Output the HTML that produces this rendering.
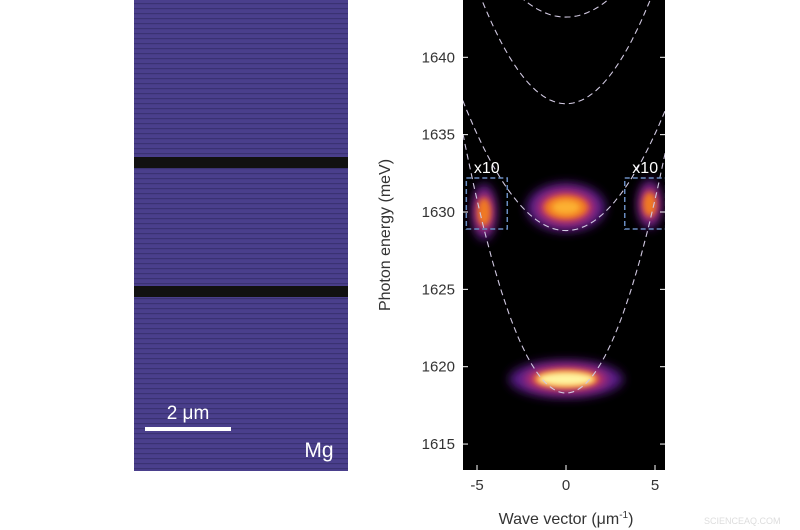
<!DOCTYPE html>
<html><head><meta charset="utf-8"><style>
body{margin:0;background:#fff;width:800px;height:530px;overflow:hidden;font-family:"Liberation Sans",sans-serif}
svg{position:absolute;left:0;top:0}
</style></head><body>
<svg width="800" height="530">
<defs>
<pattern id="stripes" width="7" height="5" patternUnits="userSpaceOnUse">
<rect width="7" height="5" fill="#4a3f8c"/><rect y="3" width="7" height="1.2" fill="#3a3272"/>
</pattern>
<filter id="blur" x="-50%" y="-50%" width="200%" height="200%"><feGaussianBlur stdDeviation="5"/></filter>
<filter id="blur2" x="-50%" y="-50%" width="200%" height="200%"><feGaussianBlur stdDeviation="3"/></filter>
<clipPath id="plotclip"><rect x="463" y="0" width="202" height="470"/></clipPath>
</defs>
<g>
<rect x="134" y="0" width="214" height="471" fill="url(#stripes)"/>
<rect x="134" y="157" width="214" height="11" fill="#111"/>
<rect x="134" y="286" width="214" height="11" fill="#111"/>
<rect x="145" y="427" width="86" height="4" fill="#fff"/>
<text x="188" y="419" font-size="19" fill="#fff" text-anchor="middle">2 μm</text>
<text x="319" y="457" font-size="21" fill="#fff" text-anchor="middle">Mg</text>
</g>
<rect x="463" y="0" width="202" height="470" fill="#000"/>
<g id="marks" clip-path="url(#plotclip)"></g>
<g id="axes"></g>
<text x="566" y="524" font-size="16" fill="#333" text-anchor="middle">Wave vector (μm<tspan dy="-6" font-size="10">-1</tspan><tspan dy="6">)</tspan></text>
<text transform="translate(390,235) rotate(-90)" font-size="16" fill="#333" text-anchor="middle">Photon energy (meV)</text>
<text x="704" y="524" font-size="9" fill="#ddd">SCIENCEAQ.COM</text>
</svg>
<script>
const xTicks=[-5,0,5];
const yTicks=[1615,1620,1625,1630,1635,1640];
const curveVertex=[1618.3,1628.8,1637.0,1642.6];
const curveCoef=[0.5,0.25,0.3,0.2];
const blobK=[0,0,-4.6,4.7];
const blobE=[1619.2,1630.3,1630.0,1630.5];
const blobWk=[2.9,2.0,0.6,0.6];
const blobWe=[1.0,1.3,1.5,1.3];
const boxK0=[-5.6,3.3];
const boxK1=[-3.3,5.6];
const boxE0=[1628.9,1628.9];
const boxE1=[1632.2,1632.2];
const xs=k=>566+k*17.8;
const ys=e=>212-(e-1630)*15.47;
const NS='http://www.w3.org/2000/svg';
const marks=document.getElementById('marks'),axes=document.getElementById('axes');
function mk(t,a,p){const e=document.createElementNS(NS,t);for(const k in a)e.setAttribute(k,a[k]);p.appendChild(e);return e;}
blobK.forEach((k,i)=>{
 const g=mk('g',{},marks);
 
 
 const rx=blobWk[i]*17.8, ry=blobWe[i]*15.47;
 mk('ellipse',{cx:xs(k),cy:ys(blobE[i]),rx:rx*1.1,ry:ry*1.2,fill:'#5a1a8a',filter:'url(#blur)'},g);
 mk('ellipse',{cx:xs(k),cy:ys(blobE[i]),rx:rx*0.8,ry:ry*0.85,fill:'#c0306a',filter:'url(#blur)'},g);
 mk('ellipse',{cx:xs(k),cy:ys(blobE[i]),rx:rx*0.62,ry:ry*0.6,fill:'#f07a20',filter:'url(#blur2)'},g);
 if(i<2) mk('ellipse',{cx:xs(k),cy:ys(blobE[i]),rx:rx*(i==0?0.55:0.4),ry:ry*(i==0?0.45:0.35),fill:i==0?'#fff4a0':'#fcb030',filter:'url(#blur2)'},g);
});
curveVertex.forEach((v,i)=>{
 let d='';for(let k=-6;k<=6.001;k+=0.1){d+=(d?'L':'M')+xs(k).toFixed(1)+','+ys(v+curveCoef[i]*k*k).toFixed(1);}
 const p=mk('path',{d,fill:'none',stroke:'#d0c8e0','stroke-width':1.1,'stroke-dasharray':'6,4'},marks);
 
 
});
boxK0.forEach((k,i)=>{
 const r=mk('rect',{x:xs(k),y:ys(boxE1[i]),width:xs(boxK1[i])-xs(k),height:ys(boxE0[i])-ys(boxE1[i]),fill:'none',stroke:'#6a8cc0','stroke-width':1.5,'stroke-dasharray':'5,3'},marks);
 
 
 const t=mk('text',{x:(xs(k)+xs(boxK1[i]))/2,y:ys(boxE1[i])-5,'font-size':16,fill:'#fff','text-anchor':'middle'},marks);
 t.textContent='x10';
 
 
});
xTicks.forEach(k=>{
 mk('line',{x1:xs(k),x2:xs(k),y1:470,y2:465,stroke:'#fff'},axes);
 const t=mk('text',{x:xs(k),y:490,'font-size':15,fill:'#333','text-anchor':'middle'},axes);
 t.textContent=k;
 
 
});
yTicks.forEach(e=>{
 mk('line',{x1:463,x2:468,y1:ys(e),y2:ys(e),stroke:'#fff'},axes);
 mk('line',{x1:660,x2:665,y1:ys(e),y2:ys(e),stroke:'#fff'},axes);
 const t=mk('text',{x:455,y:ys(e)+5,'font-size':15,fill:'#333','text-anchor':'end'},axes);
 t.textContent=e;
 
 
});
</script>
</body></html>
